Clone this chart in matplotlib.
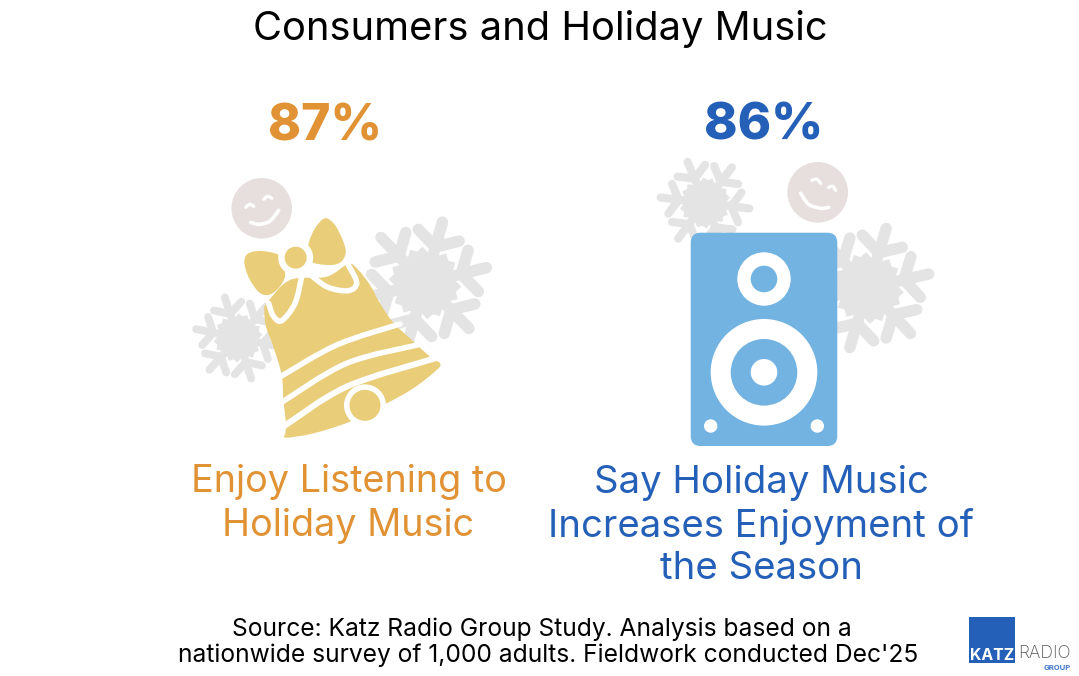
import numpy as np
import matplotlib
matplotlib.use('Agg')
import matplotlib.pyplot as plt
from matplotlib.patches import Circle, FancyBboxPatch, PathPatch, Polygon
from matplotlib.path import Path

title = "Consumers and Holiday Music"
percents = ["87%", "86%"]
captions = ["Enjoy Listening to\nHoliday Music",
            "Say Holiday Music\nIncreases Enjoyment of\nthe Season"]
source_lines = ["Source: Katz Radio Group Study. Analysis based on a",
                "nationwide survey of 1,000 adults. Fieldwork conducted Dec'25"]

ORANGE = '#e09234'
BLUE = '#245fb8'
GOLD = '#e9cd78'
SKY = '#72b3e2'
GREY = '#e4e4e4'
FACE = '#e6dfdd'

plt.rcParams['font.family'] = ['Inter', 'DejaVu Sans']

fig = plt.figure(figsize=(10.79, 6.76), dpi=100)
ax = fig.add_axes([0, 0, 1, 1])
ax.set_xlim(0, 1079)
ax.set_ylim(676, 0)
ax.axis('off')

PX = 0.72  # pixels to points


def smooth(pts, closed=True):
    # catmull-rom curve that goes through all the given points
    pts = np.array(pts, dtype=float)
    if closed:
        p = np.vstack([pts[-1], pts, pts[0], pts[1]])
    else:
        p = np.vstack([pts[0], pts, pts[-1]])
    verts = [p[1]]
    codes = [Path.MOVETO]
    for i in range(1, len(p) - 2):
        verts += [p[i] + (p[i + 1] - p[i - 1]) / 6, p[i + 1] - (p[i + 2] - p[i]) / 6, p[i + 1]]
        codes += [Path.CURVE4] * 3
    return Path(verts, codes)


def snowflake(cx, cy, r, rot, z=1):
    w = r * 0.17 * PX
    c = np.array([cx, cy])
    for k in range(6):
        a = np.radians(rot + 60 * k)
        d = np.array([np.sin(a), -np.cos(a)])
        tip = c + d * r * 0.93
        ax.plot([cx, tip[0]], [cy, tip[1]], color=GREY, lw=w, solid_capstyle='round', zorder=z)
        for s in (-1, 1):
            b = np.radians(rot + 60 * k + s * 60)
            e = np.array([np.sin(b), -np.cos(b)])
            for at, ln, cap in ((0.55, 0.36, 'round'), (0.3, 0.26, 'butt')):
                start = c + d * r * at
                end = start + e * r * ln
                ax.plot([start[0], end[0]], [start[1], end[1]], color=GREY, lw=w,
                        solid_capstyle=cap, zorder=z)
    ang = np.radians(rot + 30 + np.arange(6) * 60)
    hexa = np.c_[cx + r * 0.48 * np.sin(ang), cy - r * 0.48 * np.cos(ang)]
    ax.add_patch(Polygon(hexa, closed=True, fc=GREY, ec='none', zorder=z))


def white_line(pts, lw, z, color='white'):
    ax.add_patch(PathPatch(smooth(pts, closed=False), fc='none', ec=color, lw=lw * PX,
                           capstyle='round', zorder=z))


def smiley(cx, cy, smile, eye1, eye2):
    ax.add_patch(Circle((cx, cy), 30.3, fc=FACE, ec='none', zorder=2))
    for pts, w in ((smile, 3.6), (eye1, 3.2), (eye2, 3.2)):
        white_line([(cx + x, cy + y) for x, y in pts], w, 3)


def z1(pts):
    return [(180 + x / 3, 170 + y / 3) for x, y in pts]


# left panel
snowflake(425, 283, 68, 16)
snowflake(238, 338, 46, -18)
smiley(261.7, 208.3, [(-11, 14), (-3, 16), (8, 13), (17, 2)],
       [(-16, -1), (-12, -4), (-8, -2)], [(2, -9), (6, -12), (10, -10)])

bell = z1([(505, 282), (535, 300), (570, 345), (600, 400), (640, 458), (695, 510), (750, 560), (780, 580),
           (770, 600), (700, 655), (620, 700), (510, 755), (400, 790), (318, 803), (316, 790), (318, 760),
           (310, 690), (305, 615), (280, 530), (258, 470), (253, 420), (262, 397), (330, 330), (440, 320)])
ax.add_patch(PathPatch(smooth(bell), fc=GOLD, ec='none', zorder=4))
white_line(z1([(298, 622), (470, 525), (660, 462)]), 5.5, 5)
white_line(z1([(305, 697), (500, 580), (725, 522)]), 5.5, 5)
white_line(z1([(310, 770), (500, 650), (765, 565)]), 6, 5)
ax.add_patch(Circle(z1([(555, 706)])[0], 21, fc='white', ec='none', zorder=6))
ax.add_patch(Circle(z1([(555, 706)])[0], 15.5, fc=GOLD, ec='none', zorder=7))

# bow and ribbons
ax.add_patch(PathPatch(smooth(z1([(297, 255), (245, 243), (205, 250), (193, 275), (205, 320), (235, 365),
                                  (265, 375), (295, 355), (315, 320), (310, 285)])),
                       fc=GOLD, ec='none', zorder=6))
ax.add_patch(PathPatch(smooth(z1([(385, 225), (405, 175), (435, 145), (465, 165), (490, 215), (497, 250),
                                  (480, 278), (440, 285), (390, 272)])),
                       fc=GOLD, ec='none', zorder=6))
white_line(z1([(375, 300), (440, 350), (505, 362), (530, 338), (505, 285)]), 5.5, 6)
white_line(z1([(365, 320), (345, 400), (305, 452), (280, 438), (266, 400)]), 5.5, 6)
ax.add_patch(Circle(z1([(347, 263)])[0], 17.5, fc='white', ec='none', zorder=7))
ax.add_patch(Circle(z1([(347, 263)])[0], 11, fc=GOLD, ec='none', zorder=8))

# right panel
snowflake(868, 288, 67, 17)
snowflake(705, 203, 48, -23)
smiley(817.7, 192.3, [(-17, 1), (-9, 12), (3, 16), (11, 15)],
       [(-6, -12), (-1, -13), (3, -9)], [(11, -5), (15, -6), (18, -2)])

ax.add_patch(FancyBboxPatch((700.7, 242.7), 126.6, 193.3, boxstyle='round,pad=10,rounding_size=10',
                            fc=SKY, ec='none', zorder=4))
for x, y, r, c in [(764, 279, 26.7, 'white'), (764, 279, 13.3, SKY),
                   (764, 372.3, 53.3, 'white'), (764, 372.3, 33.3, SKY), (764, 372.3, 13.3, 'white'),
                   (710.7, 426, 6.7, 'white'), (817.3, 426, 6.7, 'white')]:
    ax.add_patch(Circle((x, y), r, fc=c, ec='none', zorder=5))

# text
ax.text(540, 29, title, ha='center', va='center', fontsize=28.7, color='black', zorder=10)
ax.text(325, 127, percents[0], ha='center', va='center', fontsize=36, fontweight='heavy', color=ORANGE)
ax.text(763.5, 126, percents[1], ha='center', va='center', fontsize=36.5, fontweight='heavy', color=BLUE)
ax.text(348.5, 504, captions[0], ha='center', va='center', fontsize=27.2, color=ORANGE, linespacing=1.25)
ax.text(761, 526, captions[1], ha='center', va='center', fontsize=27.6, color=BLUE, linespacing=1.23)
ax.text(542, 629, source_lines[0], ha='center', va='center', fontsize=17.7, color='black')
ax.text(548, 655, source_lines[1], ha='center', va='center', fontsize=17.7, color='black')

# logo
ax.add_patch(Polygon([(969, 617), (1015.3, 617), (1015.3, 663.3), (969, 663.3)], closed=True, fc=BLUE, ec='none'))
ax.text(992, 656, "KATZ", ha='center', va='center', fontsize=11.4, fontweight='bold', color='white')
ax.text(1044, 654, "RADIO", ha='center', va='center', fontsize=12.6, fontweight='light', color='#555555')
ax.text(1071, 668, "GROUP", ha='right', va='center', fontsize=5.5, fontweight='bold', color='#3f78c9')

fig.savefig('out.png', dpi=100)
